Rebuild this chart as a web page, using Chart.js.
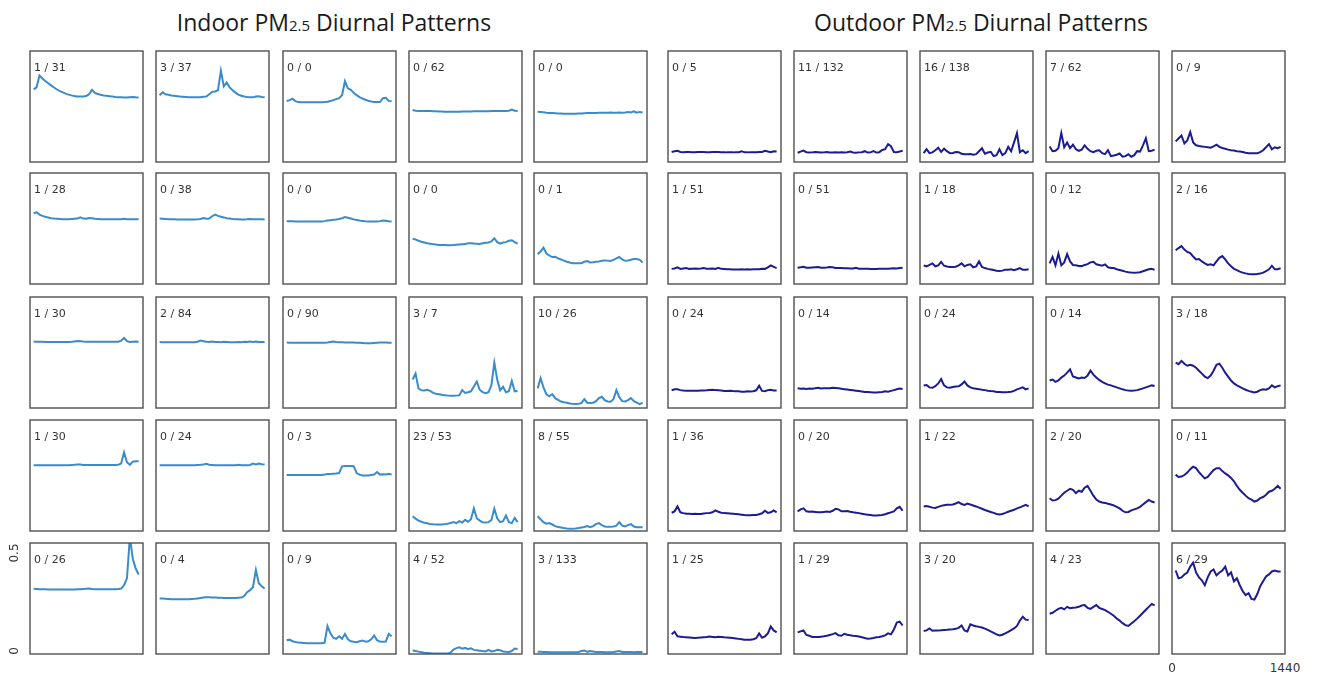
<!DOCTYPE html>
<html>
<head>
<meta charset="utf-8">
<script src="https://cdn.jsdelivr.net/npm/chart.js@4.4.1/dist/chart.umd.min.js"></script>
<style>
  body { margin: 0; width: 1327px; height: 675px; background: #fff; position: relative; overflow: hidden; font-family: "DejaVu Sans", sans-serif; }
  .title { position: absolute; top: 7px; font-family: "Open Sans", sans-serif; font-size: 23px; color: #1a1a1a; white-space: nowrap; transform: translateX(-50%); line-height: 30px; }
  .title .sub { font-size: 15px; }
  .panel { position: absolute; }
  .tag { position: absolute; left: 6px; top: 12px; font-size: 11px; line-height: 13px; color: #333; white-space: nowrap; }
  .tick { position: absolute; font-size: 12px; line-height: 14px; color: #333; white-space: nowrap; }
</style>
</head>
<body>
<div class="title" style="left:334px">Indoor PM<span class="sub">2.5</span> Diurnal Patterns</div>
<div class="title" style="left:981px">Outdoor PM<span class="sub">2.5</span> Diurnal Patterns</div>
<script>
// minutes of the day
const minutes = [0,40,80,120,160,200,240,280,320,360,400,440,480,520,560,600,640,680,720,760,800,840,880,920,960,1000,1040,1080,1120,1160,1200,1240,1280,1320,1360,1400,1440];

const yTicks = [0, 0.5];
const yTickLabels = ['0', '0.5'];
const xTickLabels = ['0', '1440'];

const indoorTags = ['1 / 31','3 / 37','0 / 0','0 / 62','0 / 0',
  '1 / 28','0 / 38','0 / 0','0 / 0','0 / 1',
  '1 / 30','2 / 84','0 / 90','3 / 7','10 / 26',
  '1 / 30','0 / 24','0 / 3','23 / 53','8 / 55',
  '0 / 26','0 / 4','0 / 9','4 / 52','3 / 133'];
const outdoorTags = ['0 / 5','11 / 132','16 / 138','7 / 62','0 / 9',
  '1 / 51','0 / 51','1 / 18','0 / 12','2 / 16',
  '0 / 24','0 / 14','0 / 24','0 / 14','3 / 18',
  '1 / 36','0 / 20','1 / 22','2 / 20','0 / 11',
  '1 / 25','1 / 29','3 / 20','4 / 23','6 / 29'];

// indoor series
const in11 = [.355,.365,.425,.41,.397,.386,.375,.364,.354,.346,.339,.333,.328,.324,.321,.319,.318,.318,.321,.33,.352,.337,.331,.327,.324,.322,.32,.318,.316,.315,.314,.313,.313,.315,.316,.314,.313];
const in12 = [.325,.34,.33,.327,.324,.322,.32,.318,.317,.316,.315,.314,.314,.314,.315,.317,.318,.33,.342,.344,.35,.449,.37,.39,.365,.35,.338,.328,.322,.318,.316,.315,.314,.318,.32,.316,.315];
const in13 = [.295,.3,.307,.295,.29,.289,.289,.289,.289,.289,.289,.289,.289,.29,.292,.295,.3,.305,.31,.325,.396,.36,.352,.337,.325,.315,.308,.302,.297,.293,.291,.29,.29,.31,.312,.296,.294];
const in14 = [.25,.246,.245,.245,.244,.244,.244,.243,.243,.242,.242,.241,.241,.241,.241,.241,.241,.242,.242,.242,.242,.243,.243,.243,.243,.243,.243,.244,.244,.244,.244,.244,.245,.246,.252,.246,.245];
const in15 = [.241,.24,.238,.236,.235,.234,.233,.232,.232,.231,.231,.231,.231,.231,.232,.232,.233,.234,.234,.235,.235,.236,.236,.236,.236,.237,.236,.236,.237,.236,.237,.24,.237,.243,.236,.24,.237];
const in21 = [.345,.35,.338,.332,.327,.323,.32,.318,.317,.316,.315,.315,.315,.316,.317,.318,.324,.318,.317,.321,.32,.317,.316,.315,.315,.315,.314,.314,.315,.315,.315,.317,.315,.314,.315,.314,.314];
const in22 = [.318,.317,.316,.315,.314,.314,.313,.313,.313,.313,.313,.313,.313,.314,.316,.321,.317,.318,.33,.338,.332,.327,.324,.32,.318,.316,.315,.314,.313,.313,.314,.316,.315,.314,.315,.314,.313];
const in23 = [.304,.304,.304,.303,.303,.303,.303,.303,.303,.303,.303,.303,.303,.305,.308,.31,.312,.313,.316,.32,.326,.322,.318,.314,.311,.308,.306,.304,.303,.303,.303,.303,.305,.308,.307,.304,.303];
const in24 = [.215,.212,.205,.2,.196,.192,.19,.188,.186,.184,.183,.183,.182,.182,.183,.185,.186,.187,.188,.192,.193,.191,.19,.189,.192,.195,.196,.202,.218,.198,.19,.196,.198,.205,.208,.198,.19];
const in25 = [.137,.15,.17,.14,.13,.122,.124,.115,.11,.104,.098,.094,.091,.09,.09,.091,.098,.102,.095,.096,.098,.1,.103,.105,.104,.102,.108,.115,.123,.11,.103,.105,.108,.112,.112,.108,.094];
const in31 = [.323,.322,.322,.322,.321,.321,.321,.321,.321,.321,.321,.321,.321,.322,.324,.326,.325,.323,.322,.322,.322,.322,.322,.322,.322,.322,.322,.322,.322,.322,.328,.342,.325,.321,.322,.323,.322];
const in32 = [.321,.32,.32,.32,.32,.32,.32,.32,.32,.32,.32,.32,.32,.322,.328,.325,.322,.321,.323,.321,.321,.32,.322,.321,.32,.32,.32,.321,.32,.322,.321,.323,.321,.323,.321,.321,.321];
const in33 = [.318,.317,.317,.317,.317,.317,.317,.317,.317,.317,.317,.317,.317,.317,.318,.321,.324,.321,.32,.32,.319,.319,.318,.318,.317,.317,.316,.315,.315,.315,.316,.317,.318,.319,.318,.317,.317];
const in34 = [.13,.16,.085,.075,.074,.078,.072,.062,.058,.055,.052,.05,.048,.047,.047,.048,.05,.076,.062,.065,.07,.095,.12,.078,.066,.06,.065,.1,.216,.13,.075,.093,.065,.07,.123,.07,.072];
const in35 = [.085,.137,.09,.055,.045,.056,.035,.026,.018,.014,.012,.008,.006,.005,.006,.01,.03,.012,.01,.012,.02,.035,.042,.025,.018,.017,.03,.076,.04,.02,.018,.025,.036,.02,.012,.005,.012];
const in41 = [.32,.32,.32,.32,.32,.32,.32,.32,.32,.32,.32,.32,.32,.321,.322,.324,.323,.321,.321,.321,.321,.321,.321,.321,.321,.321,.321,.321,.321,.322,.328,.385,.335,.322,.338,.34,.34];
const in42 = [.32,.32,.32,.32,.32,.32,.32,.32,.32,.32,.32,.32,.32,.321,.322,.324,.327,.322,.321,.32,.32,.32,.32,.32,.32,.32,.32,.322,.32,.32,.32,.321,.328,.324,.328,.325,.324];
const in43 = [.27,.27,.27,.27,.27,.27,.27,.27,.27,.27,.27,.27,.27,.272,.275,.275,.277,.278,.28,.314,.316,.316,.316,.315,.28,.272,.268,.268,.268,.27,.272,.285,.272,.274,.273,.276,.273];
const in44 = [.06,.048,.038,.032,.027,.024,.021,.019,.018,.018,.018,.02,.022,.026,.03,.025,.035,.028,.042,.032,.045,.1,.05,.038,.03,.028,.03,.04,.098,.05,.03,.035,.064,.03,.025,.052,.03];
const in45 = [.06,.045,.03,.022,.025,.018,.01,.005,.003,0,-.002,-.003,-.003,-.002,0,.003,.005,.01,.004,.01,.02,.025,.015,.008,.006,.006,.008,.012,.03,.012,.008,.015,.02,.008,.004,.004,.004];
const in51 = [.317,.316,.315,.314,.314,.313,.313,.313,.313,.313,.313,.313,.313,.313,.313,.314,.315,.316,.317,.318,.316,.315,.315,.315,.315,.315,.315,.315,.315,.316,.318,.335,.37,.58,.47,.42,.39];
const in52 = [.268,.267,.266,.265,.264,.264,.264,.264,.264,.264,.264,.265,.266,.268,.27,.272,.274,.274,.273,.272,.271,.271,.27,.27,.27,.27,.27,.271,.272,.28,.3,.31,.325,.413,.345,.33,.318];
const in53 = [.055,.058,.05,.046,.043,.042,.041,.04,.04,.04,.04,.04,.04,.042,.127,.09,.068,.062,.075,.063,.087,.06,.05,.047,.045,.05,.054,.048,.05,.06,.079,.055,.048,.047,.048,.087,.075];
const in54 = [.003,0,-.003,-.006,-.009,-.01,-.011,-.012,-.012,-.012,-.012,-.012,-.012,-.008,.008,.015,.019,.012,.016,.01,.014,.006,.004,.002,0,-.002,.006,-.002,0,.006,.004,-.002,-.004,-.005,0,.013,.01];
const in55 = [-.003,-.004,-.005,-.005,-.006,-.006,-.006,-.006,-.006,-.006,-.006,-.006,-.006,-.006,-.005,0,.003,-.004,0,-.002,-.005,-.005,-.005,-.006,-.006,-.006,-.005,-.002,0,-.005,-.005,-.005,-.005,-.006,-.005,-.005,-.005];

// outdoor series
const out11 = [.036,.04,.042,.036,.035,.036,.036,.035,.035,.036,.036,.036,.035,.035,.036,.036,.036,.035,.035,.034,.034,.034,.035,.035,.04,.034,.034,.035,.035,.035,.036,.036,.042,.038,.035,.04,.038];
const out12 = [.032,.038,.043,.035,.033,.034,.036,.035,.033,.034,.036,.033,.033,.034,.033,.034,.033,.035,.038,.033,.032,.034,.035,.04,.033,.034,.04,.033,.035,.046,.05,.076,.065,.036,.035,.038,.042];
const out13 = [.03,.05,.03,.034,.045,.058,.036,.053,.04,.03,.031,.036,.035,.027,.024,.025,.026,.022,.025,.04,.055,.027,.033,.037,.015,.02,.05,.02,.03,.062,.04,.085,.132,.035,.045,.03,.04];
const out14 = [.064,.04,.042,.055,.132,.06,.084,.055,.073,.05,.042,.048,.07,.052,.04,.035,.042,.045,.03,.025,.045,.015,.018,.022,.028,.012,.015,.025,.012,.02,.04,.038,.07,.106,.04,.042,.048];
const out15 = [.09,.105,.12,.08,.095,.137,.085,.07,.066,.064,.062,.06,.058,.065,.073,.062,.056,.052,.048,.045,.043,.04,.038,.036,.032,.03,.03,.03,.03,.035,.045,.06,.076,.05,.06,.055,.062];
const out21 = [.062,.064,.07,.062,.064,.066,.062,.063,.064,.063,.064,.066,.063,.063,.064,.062,.067,.062,.061,.06,.06,.059,.059,.059,.06,.059,.06,.059,.06,.06,.06,.063,.062,.07,.08,.072,.066];
const out22 = [.068,.07,.073,.068,.068,.069,.07,.071,.068,.068,.069,.071,.07,.067,.066,.066,.065,.065,.064,.064,.068,.063,.062,.062,.062,.061,.061,.061,.062,.062,.062,.063,.064,.065,.064,.066,.068];
const out23 = [.08,.075,.082,.09,.075,.08,.098,.078,.074,.072,.072,.073,.08,.09,.075,.082,.085,.07,.074,.1,.072,.066,.062,.059,.056,.053,.051,.053,.058,.057,.06,.055,.06,.066,.057,.058,.06];
const out24 = [.09,.123,.08,.14,.08,.095,.137,.1,.082,.08,.077,.076,.082,.086,.095,.098,.085,.082,.078,.085,.07,.067,.066,.06,.056,.052,.048,.045,.043,.042,.043,.045,.05,.055,.06,.062,.057];
const out25 = [.157,.168,.178,.16,.148,.142,.125,.11,.112,.1,.09,.082,.085,.08,.1,.118,.127,.11,.09,.075,.062,.056,.048,.043,.039,.036,.035,.035,.036,.038,.043,.05,.06,.078,.06,.06,.066];
const out31 = [.075,.08,.08,.076,.074,.073,.073,.073,.073,.073,.074,.074,.075,.077,.078,.076,.075,.074,.072,.072,.073,.071,.07,.07,.068,.068,.07,.069,.07,.075,.098,.072,.07,.076,.078,.074,.074];
const out32 = [.085,.083,.084,.082,.084,.083,.085,.088,.084,.086,.085,.086,.088,.087,.085,.083,.081,.079,.077,.075,.073,.071,.069,.067,.066,.065,.064,.064,.065,.066,.07,.068,.072,.076,.08,.084,.082];
const out33 = [.1,.102,.09,.088,.096,.11,.132,.1,.09,.088,.092,.094,.095,.105,.12,.1,.09,.085,.083,.081,.078,.076,.073,.071,.07,.067,.066,.065,.065,.066,.068,.072,.08,.085,.09,.08,.085];
const out34 = [.125,.13,.118,.125,.14,.15,.165,.182,.145,.14,.135,.14,.138,.15,.175,.155,.14,.128,.118,.11,.104,.1,.095,.09,.085,.08,.076,.074,.073,.074,.076,.08,.085,.09,.095,.1,.097];
const out35 = [.216,.208,.225,.21,.2,.205,.2,.19,.175,.16,.145,.137,.15,.175,.205,.211,.19,.165,.145,.125,.11,.1,.093,.085,.078,.072,.068,.064,.068,.076,.08,.078,.085,.1,.09,.096,.1];
const out41 = [.078,.085,.11,.08,.076,.073,.073,.072,.073,.072,.072,.074,.076,.077,.08,.09,.083,.078,.076,.075,.074,.073,.072,.07,.068,.066,.065,.065,.066,.067,.07,.075,.088,.077,.08,.09,.08];
const out42 = [.085,.095,.1,.085,.083,.084,.082,.08,.08,.082,.084,.082,.088,.098,.095,.085,.086,.087,.083,.08,.078,.076,.073,.07,.068,.066,.064,.064,.065,.066,.07,.075,.08,.085,.1,.108,.088];
const out43 = [.11,.112,.108,.104,.102,.108,.113,.116,.118,.118,.12,.125,.132,.122,.118,.125,.12,.115,.11,.104,.098,.092,.087,.082,.077,.072,.069,.072,.077,.083,.088,.093,.1,.105,.112,.118,.11];
const out44 = [.152,.14,.142,.15,.165,.18,.19,.2,.195,.178,.19,.185,.205,.215,.19,.165,.145,.135,.13,.128,.124,.12,.115,.108,.1,.088,.08,.082,.09,.095,.1,.108,.12,.132,.143,.135,.13];
const out45 = [.272,.26,.262,.27,.282,.3,.312,.305,.285,.268,.253,.26,.278,.295,.305,.305,.29,.278,.268,.255,.238,.215,.195,.18,.165,.152,.145,.135,.14,.152,.158,.17,.185,.19,.2,.215,.2];
const out51 = [.085,.098,.075,.073,.071,.07,.069,.068,.067,.068,.069,.07,.071,.074,.072,.07,.073,.072,.07,.069,.068,.066,.064,.062,.06,.058,.057,.058,.06,.065,.09,.068,.075,.09,.125,.105,.095];
const out52 = [.095,.1,.105,.082,.078,.072,.071,.071,.073,.075,.078,.082,.086,.091,.08,.078,.088,.083,.08,.078,.077,.074,.07,.066,.063,.064,.066,.07,.072,.075,.08,.09,.085,.11,.145,.15,.13];
const out53 = [.102,.105,.115,.103,.104,.104,.106,.107,.108,.11,.111,.113,.118,.13,.105,.1,.136,.13,.126,.123,.12,.114,.108,.1,.093,.085,.079,.083,.09,.098,.106,.115,.128,.155,.175,.16,.158];
const out54 = [.19,.195,.205,.215,.22,.212,.225,.218,.22,.222,.225,.232,.234,.22,.215,.225,.234,.22,.214,.208,.2,.19,.18,.166,.155,.142,.132,.128,.14,.152,.165,.18,.195,.21,.225,.24,.232];
const out55 = [.41,.37,.375,.39,.4,.43,.45,.4,.375,.36,.335,.375,.405,.415,.385,.4,.41,.43,.385,.4,.355,.37,.335,.305,.285,.295,.265,.262,.29,.33,.355,.38,.39,.405,.41,.405,.405];

const indoorSeries = [in11,in12,in13,in14,in15,in21,in22,in23,in24,in25,in31,in32,in33,in34,in35,in41,in42,in43,in44,in45,in51,in52,in53,in54,in55];
const outdoorSeries = [out11,out12,out13,out14,out15,out21,out22,out23,out24,out25,out31,out32,out33,out34,out35,out41,out42,out43,out44,out45,out51,out52,out53,out54,out55];

// layout
const indoorCols = [30, 156, 283, 409, 534];
const outdoorCols = [668, 794, 920, 1046, 1172];
const rowTops = [51, 173, 297, 420, 543];
const panelW = 113, panelH = 111, pad = 2;
const indoorColor = '#3a8bcb';
const outdoorColor = '#1c1c92';

// box around each small plot
const frame = {
  id: 'frame',
  afterDraw(chart) {
    const a = chart.chartArea;
    const ctx = chart.ctx;
    ctx.save();
    ctx.strokeStyle = '#505050';
    ctx.lineWidth = 1.4;
    ctx.strokeRect(a.left, a.top, a.right - a.left, a.bottom - a.top);
    ctx.restore();
  }
};

function addText(cls, text, x, y, extra) {
  const d = document.createElement('div');
  d.className = cls;
  d.textContent = text;
  d.style.left = x + 'px';
  d.style.top = y + 'px';
  if (extra) d.style.transform = extra;
  document.body.appendChild(d);
  return d;
}

function makePanel(left, top, values, color, tag) {
  const wrap = document.createElement('div');
  wrap.className = 'panel';
  wrap.style.left = (left - pad) + 'px';
  wrap.style.top = (top - pad) + 'px';
  const cv = document.createElement('canvas');
  cv.width = panelW + pad * 2;
  cv.height = panelH + pad * 2;
  wrap.appendChild(cv);
  const t = document.createElement('div');
  t.className = 'tag';
  t.textContent = tag;
  wrap.appendChild(t);
  document.body.appendChild(wrap);

  return new Chart(cv, {
    type: 'line',
    data: {
      datasets: [{
        data: values.map((v, i) => ({ x: minutes[i], y: v })),
        borderColor: color,
        borderWidth: 2,
        pointRadius: 0,
        tension: 0,
        fill: false
      }]
    },
    options: {
      responsive: false,
      animation: false,
      events: [],
      layout: { padding: pad },
      plugins: { legend: { display: false }, tooltip: { enabled: false } },
      scales: {
        x: { type: 'linear', min: -50, max: 1500, display: false },
        y: { min: -0.015, max: 0.55, display: false }
      }
    },
    plugins: [frame]
  });
}

let cornerIn = null, cornerOut = null;
for (let r = 0; r < 5; r++) {
  for (let c = 0; c < 5; c++) {
    const k = r * 5 + c;
    const a = makePanel(indoorCols[c], rowTops[r], indoorSeries[k], indoorColor, indoorTags[k]);
    const b = makePanel(outdoorCols[c], rowTops[r], outdoorSeries[k], outdoorColor, outdoorTags[k]);
    if (r === 4 && c === 0) cornerIn = a;
    if (r === 4 && c === 4) cornerOut = b;
  }
}

// y ticks on the bottom-left indoor panel, rotated like the source
yTicks.forEach((v, i) => {
  const py = rowTops[4] - pad + cornerIn.scales.y.getPixelForValue(v);
  addText('tick', yTickLabels[i], 14, py, 'translate(-50%, -50%) rotate(-90deg)');
});

// x ticks under the bottom-right outdoor panel, at the box edges
const ca = cornerOut.chartArea;
const baseX = outdoorCols[4] - pad;
const tickY = rowTops[4] + panelH + 7;
addText('tick', xTickLabels[0], baseX + ca.left, tickY, 'translateX(-50%)');
addText('tick', xTickLabels[1], baseX + ca.right, tickY, 'translateX(-50%)');
</script>
</body>
</html>
